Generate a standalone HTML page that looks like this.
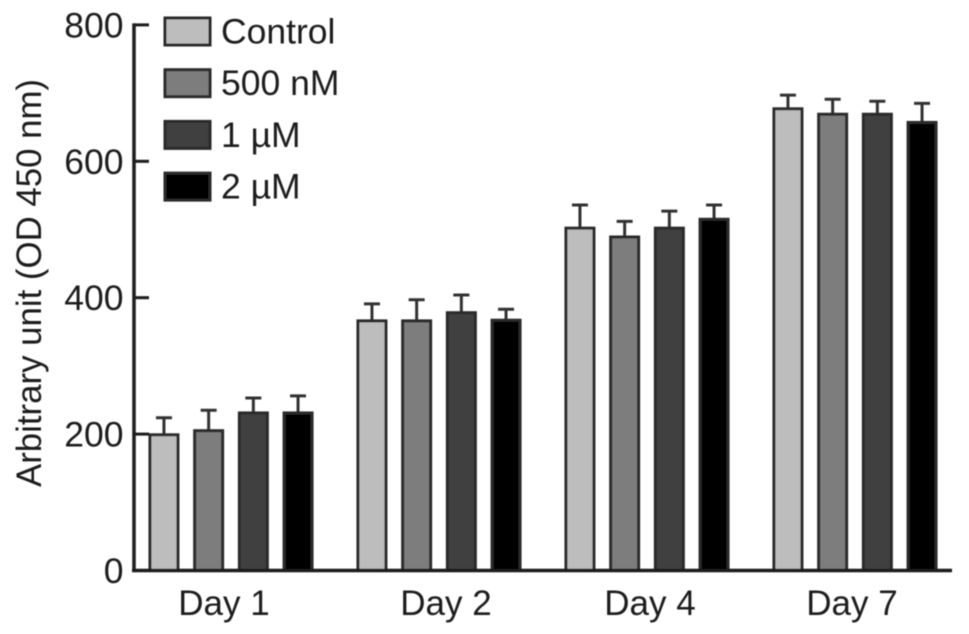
<!DOCTYPE html>
<html>
<head>
<meta charset="utf-8">
<style>
html,body{margin:0;padding:0;background:#fff;}
svg{display:block;}
text{font-family:"Liberation Sans",sans-serif;fill:#1e1e1e;}
</style>
</head>
<body>
<svg id="chart" width="969" height="634" viewBox="0 0 969 634" xmlns="http://www.w3.org/2000/svg">
<defs><filter id="soft" x="-5%" y="-5%" width="110%" height="110%"><feGaussianBlur stdDeviation="0.6"/></filter></defs>
<g id="root" filter="url(#soft)"></g>
</svg>
<script>
const categories = ["Day 1", "Day 2", "Day 4", "Day 7"];
const seriesNames = ["Control", "500 nM", "1 µM", "2 µM"];
const seriesControl = [199, 366, 502, 677];
const series500nM = [205, 366, 489, 669];
const series1uM = [231, 378, 502, 669];
const series2uM = [231, 367, 515, 657];
const errorControl = [224, 391, 536, 697];
const error500nM = [235, 397, 512, 691];
const error1uM = [253, 404, 527, 688];
const error2uM = [256, 383, 536, 685];
const yTicks = [0, 200, 400, 600, 800];
const seriesFills = ["#bdbdbd", "#7d7d7d", "#414141", "#060606"];

const allSeries = [seriesControl, series500nM, series1uM, series2uM];
const allErrors = [errorControl, error500nM, error1uM, error2uM];
const root = document.getElementById('root');
const NS = 'http://www.w3.org/2000/svg';
const y = v => 570.5 - v * 0.682;
const groupX = i => 231 + i * 208;
const barX = (i, j) => groupX(i) + (j - 1.5) * 44.7;
const barW = 28;
function mk(tag, attrs, parent, txt) {
  const el = document.createElementNS(NS, tag);
  for (const k in attrs) el.setAttribute(k, attrs[k]);
  if (txt !== undefined) el.textContent = txt;
  (parent || root).appendChild(el);
  return el;
}

allSeries.forEach((vals, j) => {
  const g = mk('g', {});
  
  
  vals.forEach((v, i) => {
    const x = barX(i, j);
    const err = allErrors[j][i];
    const stem = mk('line', {x1: x, x2: x, y1: y(v), y2: y(err), stroke: '#333', 'stroke-width': 3}, g);
    
    
    const cap = mk('line', {x1: x - 8, x2: x + 8, y1: y(err), y2: y(err), stroke: '#333', 'stroke-width': 3}, g);
    
    
    const bar = mk('rect', {x: x - barW / 2, y: y(v), width: barW, height: y(0) - y(v), fill: seriesFills[j], stroke: '#2c2c2c', 'stroke-width': 3}, g);
    
    
  });
});

const axisY = mk('line', {x1: 134, x2: 134, y1: y(800) - 1.5, y2: y(0) + 1.5, stroke: '#1a1a1a', 'stroke-width': 3.5});


const axisX = mk('line', {x1: 132, x2: 952, y1: y(0), y2: y(0), stroke: '#1a1a1a', 'stroke-width': 3.5});



yTicks.forEach(t => {
  if (t > 0) {
    const tk = mk('line', {x1: 134, x2: 149, y1: y(t), y2: y(t), stroke: '#1a1a1a', 'stroke-width': 3});
    
    
  }
  const lb = mk('text', {x: 123.5, y: y(t) + 12.5, 'text-anchor': 'end', 'font-size': 35.5}, root, String(t));
  
  
});

const labelNudge = i => [-7, 7, 3, -3][i];
categories.forEach((c, i) => {
  const lb = mk('text', {x: groupX(i) + labelNudge(i), y: 615, 'text-anchor': 'middle', 'font-size': 35}, root, c);
  
  
});

const title = mk('text', {transform: 'translate(41,283) rotate(-90)', 'text-anchor': 'middle', 'font-size': 34.8}, root, 'Arbitrary unit (OD 450 nm)');



seriesNames.forEach((n, j) => {
  const g = mk('g', {});
  
  
  const ly = 18 + j * 51.7;
  const sw = mk('rect', {x: 165, y: ly, width: 45, height: 27, fill: seriesFills[j], stroke: '#2c2c2c', 'stroke-width': 3}, g);
  
  
  const t = mk('text', {x: 221, y: ly + 25.5, 'font-size': 35.5}, g, n);
  
  
});
</script>
</body>
</html>
